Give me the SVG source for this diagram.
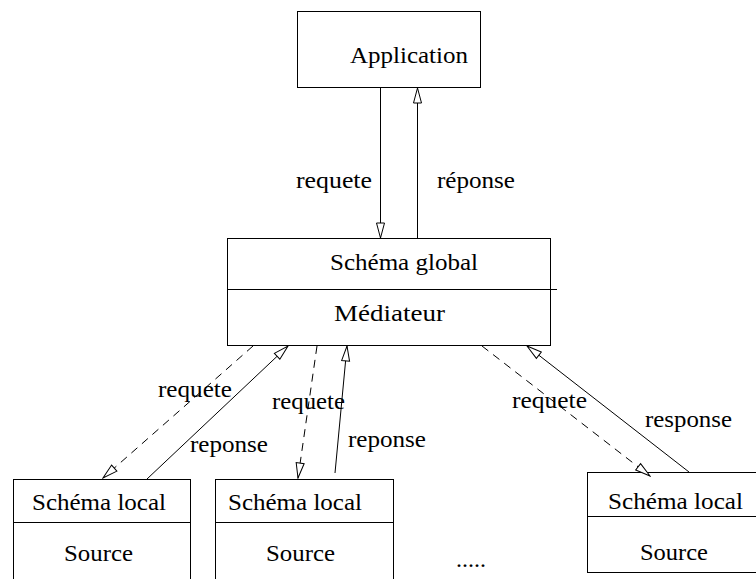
<svg xmlns="http://www.w3.org/2000/svg" width="756" height="579" viewBox="0 0 756 579">
  <style>
    .box { fill: none; stroke: #000; stroke-width: 1; }
    .sep { stroke: #000; stroke-width: 1; }
    text { font-family: 'Liberation Serif', 'DejaVu Serif', 'Times New Roman', Times, serif; font-size: 23px; fill: #000; }
    .link { fill: none; stroke: #000; stroke-width: 1; marker-end: url(#open); }
    .dash { stroke-dasharray: 8 6; }
  </style>
  <defs>
    <marker id="open" viewBox="0 0 17 10" refX="16" refY="5" markerWidth="17" markerHeight="10" markerUnits="userSpaceOnUse" orient="auto">
      <path d="M1,1 L16,5 L1,9 Z" fill="#fff" stroke="#000" stroke-width="1"/>
    </marker>
  </defs>
  <rect width="756" height="579" fill="#fff"/>

  <g id="application">
    <rect class="box" x="297.5" y="11.5" width="183" height="76"/>
    <text font-family="Liberation Serif, serif" x="350" y="63" textLength="118" lengthAdjust="spacingAndGlyphs">Application</text>
  </g>

  <g id="mediateur">
    <rect class="box" x="227.5" y="238.5" width="323" height="107"/>
    <line class="sep" x1="227.5" y1="289.5" x2="557" y2="289.5"/>
    <text x="330" y="270" textLength="148" lengthAdjust="spacingAndGlyphs">Schéma global</text>
    <text x="334" y="321" textLength="111" lengthAdjust="spacingAndGlyphs">Médiateur</text>
  </g>

  <g id="source1">
    <rect class="box" x="13.5" y="479.5" width="177" height="110"/>
    <line class="sep" x1="13.5" y1="522.5" x2="190.5" y2="522.5"/>
    <text x="32" y="510" textLength="134" lengthAdjust="spacingAndGlyphs">Schéma local</text>
    <text x="64" y="561" textLength="69" lengthAdjust="spacingAndGlyphs">Source</text>
  </g>

  <g id="source2">
    <rect class="box" x="215.5" y="479.5" width="178" height="110"/>
    <line class="sep" x1="215.5" y1="522.5" x2="393.5" y2="522.5"/>
    <text x="228" y="510" textLength="134" lengthAdjust="spacingAndGlyphs">Schéma local</text>
    <text x="266" y="561" textLength="69" lengthAdjust="spacingAndGlyphs">Source</text>
  </g>

  <g id="source3">
    <rect class="box" x="587.5" y="472.5" width="178" height="100"/>
    <line class="sep" x1="587.5" y1="516.5" x2="765.5" y2="516.5"/>
    <text x="608" y="509" textLength="135" lengthAdjust="spacingAndGlyphs">Schéma local</text>
    <text x="640" y="560" textLength="68" lengthAdjust="spacingAndGlyphs">Source</text>
  </g>

  <g id="autres">
    <text x="456" y="567" textLength="30" lengthAdjust="spacingAndGlyphs">.....</text>
  </g>

  <g id="connecteurs">
    <line class="link" x1="380.5" y1="88" x2="380.5" y2="238"/>
    <line class="link" x1="417.5" y1="238" x2="417.5" y2="88"/>
    <line class="link dash" x1="253" y1="346" x2="103" y2="478"/>
    <line class="link" x1="147" y1="479" x2="288" y2="346"/>
    <line class="link dash" x1="317" y1="346" x2="298" y2="478"/>
    <line class="link" x1="335" y1="473" x2="347" y2="346"/>
    <line class="link dash" x1="482" y1="346" x2="650" y2="476"/>
    <line class="link" x1="689" y1="472" x2="527" y2="346"/>
  </g>

  <g id="etiquettes">
    <text x="296" y="188" textLength="76" lengthAdjust="spacingAndGlyphs">requete</text>
    <text x="437" y="188" textLength="78" lengthAdjust="spacingAndGlyphs">réponse</text>
    <text x="158" y="397" textLength="74" lengthAdjust="spacingAndGlyphs">requete</text>
    <text x="190" y="452" textLength="78" lengthAdjust="spacingAndGlyphs">reponse</text>
    <text x="272" y="409" textLength="73" lengthAdjust="spacingAndGlyphs">requete</text>
    <text x="348" y="447" textLength="78" lengthAdjust="spacingAndGlyphs">reponse</text>
    <text x="512" y="408" textLength="75" lengthAdjust="spacingAndGlyphs">requete</text>
    <text x="645" y="427" textLength="87" lengthAdjust="spacingAndGlyphs">response</text>
  </g>
</svg>
